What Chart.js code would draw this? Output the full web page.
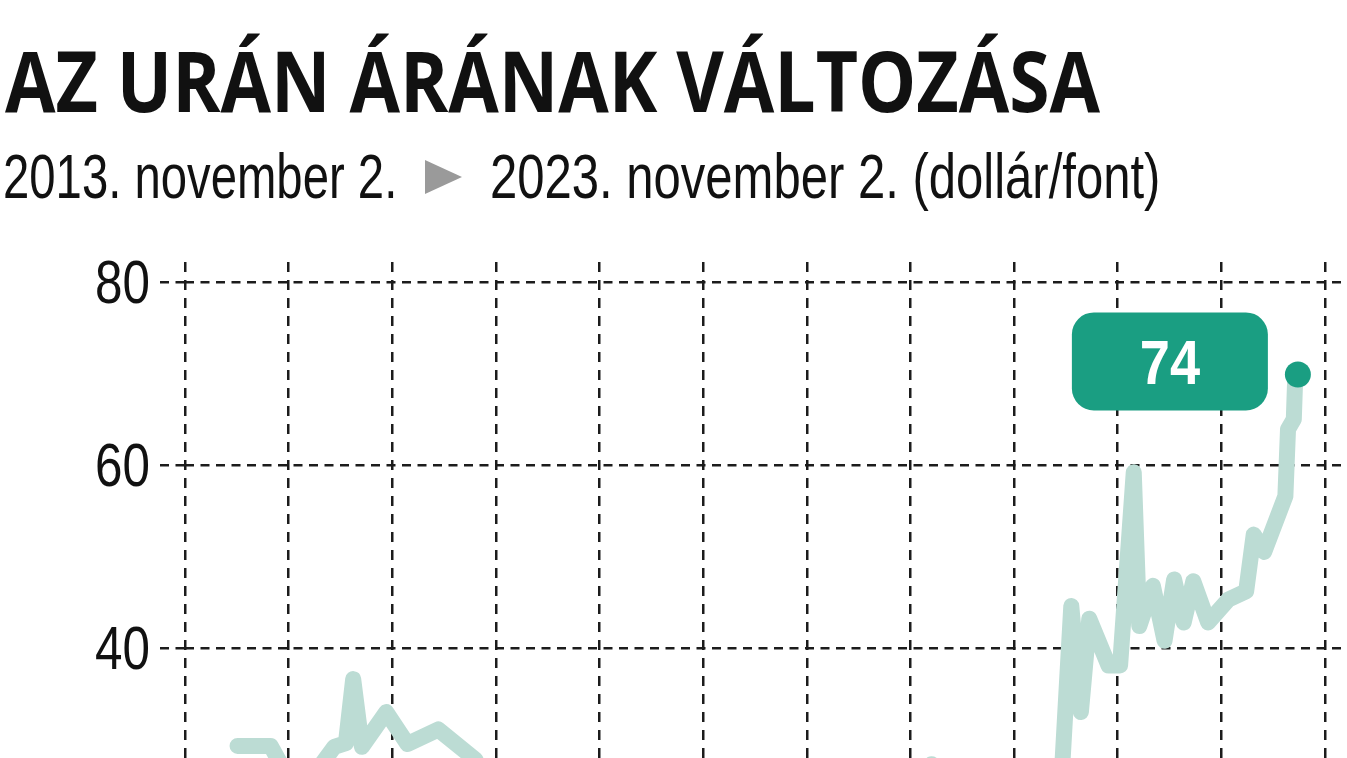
<!DOCTYPE html>
<html lang="hu">
<head>
<meta charset="utf-8">
<title>Az urán árának változása</title>
<script src="https://cdn.jsdelivr.net/npm/chart.js@4.4.0/dist/chart.umd.min.js"></script>
<style>
    html, body { margin: 0; padding: 0; background: #fff; overflow: hidden; }
    #wrap { position: relative; width: 1347px; height: 758px; overflow: hidden; background: #fff; }
    .txt { position: absolute; white-space: nowrap; color: #111; transform-origin: 0 0; }
    #title { left: 5px; top: 37px; font: 700 85px/85px "Open Sans", "Noto Sans", sans-serif; }
    .sub { top: 145px; font: 400 63px/63px "Liberation Sans", Arial, sans-serif; }
    #arrow { position: absolute; left: 425px; top: 160px; width: 0; height: 0;
             border-top: 17px solid transparent; border-bottom: 17px solid transparent; border-left: 37px solid #9a9a9a; }
    #chart { position: absolute; left: 0; top: 0; }
</style>
</head>
<body>
<div id="wrap">
    <div id="title" class="txt">AZ URÁN ÁRÁNAK VÁLTOZÁSA</div>
    <div id="subFrom" class="txt sub" style="left:3px">2013. november 2.</div>
    <div id="arrow"></div>
    <div id="subTo" class="txt sub" style="left:490px">2023. november 2. (dollár/font)</div>
    <canvas id="chart" width="1347" height="1064"></canvas>
</div>
<script>
// Uranium spot price, dollar per pound
const dates = [
    '2013-11-02', '2014-02-24', '2014-06-05', '2014-08-07', '2014-10-01', '2014-11-10',
    '2014-12-05', '2015-01-04', '2015-03-29', '2015-06-10', '2015-09-24', '2016-01-30',
    '2016-04-01', '2016-07-20', '2016-11-14', '2017-01-30', '2017-05-08', '2017-10-01',
    '2017-12-15', '2018-04-01', '2018-07-20', '2018-11-06', '2019-02-06', '2019-06-14',
    '2019-10-20', '2020-02-24', '2020-05-19', '2020-08-25', '2020-12-13', '2021-03-15',
    '2021-06-14', '2021-08-11', '2021-09-13', '2021-10-16', '2021-11-14', '2022-01-19',
    '2022-02-28', '2022-04-16', '2022-05-05', '2022-06-21', '2022-07-31', '2022-09-02',
    '2022-10-05', '2022-11-07', '2022-12-28', '2023-03-08', '2023-05-08', '2023-06-03',
    '2023-07-09', '2023-09-20', '2023-09-29', '2023-10-19', '2023-10-23', '2023-11-02'
];
const prices = [
    29.3, 29.3, 23.5, 26.8, 29.2, 29.6,
    36.6, 29.2, 33.0, 29.5, 31.1, 27.8,
    22.0, 20.5, 13.5, 19.5, 15.5, 15.0,
    19.5, 16.0, 20.5, 24.0, 23.0, 19.5,
    20.5, 19.0, 27.3, 25.5, 25.0, 23.0,
    27.0, 26.0, 44.6, 33.0, 43.2, 38.1,
    38.1, 59.2, 42.4, 46.8, 40.8, 47.5,
    42.8, 47.3, 42.8, 45.3, 46.2, 52.4,
    50.5, 56.6, 63.9, 65.0, 68.8, 69.9
];
const yTicks = [0, 20, 40, 60, 80];
const lastLabel = '74';

// x axis settings (decimal years)
const xMin = 2013.34;
const xMax = 2024.28;
const xGridStep = 0.9774;
const xGridCount = 12;

const teal = '#1a9e82';
const lineColor = '#bcdcd4';
const gridColor = '#1c1c1c';
const sans = '"Liberation Sans", Arial, sans-serif';

function toYear(s) {
    const d = new Date(s + 'T00:00:00Z');
    const start = Date.UTC(d.getUTCFullYear(), 0, 1);
    const end = Date.UTC(d.getUTCFullYear() + 1, 0, 1);
    return d.getUTCFullYear() + (d - start) / (end - start);
}

const points = dates.map((d, i) => ({ x: toYear(d), y: prices[i] }));

// squeeze the html texts to the widths in the picture
function fitText(id, width) {
    const el = document.getElementById(id);
    el.style.transform = 'scaleX(' + (width / el.offsetWidth) + ')';
}

// condensed y tick labels (no narrow font installed, so squeeze them)
const narrowTicksPlugin = {
    id: 'narrowTicks',
    afterDraw(chart) {
        const scale = chart.scales.y;
        const ctx = chart.ctx;
        const right = scale.right - 25 - 10;
        ctx.save();
        ctx.fillStyle = '#111';
        ctx.font = '61px ' + sans;
        ctx.textAlign = 'right';
        ctx.textBaseline = 'alphabetic';
        scale.ticks.forEach(t => {
            const y = scale.getPixelForValue(t.value);
            ctx.save();
            ctx.translate(right, y);
            ctx.scale(0.81, 1);
            ctx.fillText(String(t.value), 0, 21);
            ctx.restore();
        });
        ctx.restore();
    }
};

// green box with the last value, left of the end point
const lastLabelPlugin = {
    id: 'lastLabel',
    afterDatasetsDraw(chart) {
        const meta = chart.getDatasetMeta(0);
        const pt = meta.data[meta.data.length - 1];
        const ctx = chart.ctx;
        const w = 196, h = 98, r = 22;
        const right = pt.x - 30;
        const cy = pt.y - 13;
        ctx.save();
        ctx.fillStyle = teal;
        ctx.beginPath();
        ctx.roundRect(right - w, cy - h / 2, w, h, r);
        ctx.fill();
        ctx.fillStyle = '#fff';
        ctx.font = 'bold 63px ' + sans;
        ctx.textAlign = 'center';
        ctx.textBaseline = 'alphabetic';
        ctx.translate(right - w / 2, cy);
        ctx.scale(0.86, 1);
        ctx.fillText(lastLabel, 0, 23);
        ctx.restore();
    }
};

function drawChart() {
    fitText('title', 1095);
    fitText('subFrom', 394);
    fitText('subTo', 670);

    const ctx = document.getElementById('chart').getContext('2d');
    new Chart(ctx, {
        type: 'line',
        data: {
            datasets: [{
                data: points,
                borderColor: lineColor,
                borderWidth: 16,
                borderJoinStyle: 'round',
                borderCapStyle: 'round',
                tension: 0,
                pointRadius: c => c.dataIndex === points.length - 1 ? 13 : 0,
                pointBackgroundColor: teal,
                pointBorderWidth: 0,
                pointHoverRadius: 0
            }]
        },
        options: {
            responsive: false,
            animation: false,
            events: [],
            layout: { autoPadding: false, padding: { top: 262, right: 2, left: 0, bottom: 0 } },
            plugins: {
                legend: { display: false },
                tooltip: { enabled: false }
            },
            scales: {
                x: {
                    type: 'linear',
                    min: xMin,
                    max: xMax,
                    afterBuildTicks: axis => {
                        axis.ticks = [];
                        for (let i = 0; i < xGridCount; i++) {
                            axis.ticks.push({ value: xMin + i * xGridStep });
                        }
                    },
                    afterFit: axis => { axis.height = 50; },
                    ticks: { display: false },
                    grid: { color: gridColor, lineWidth: 2.5, drawTicks: false },
                    border: { display: false, dash: [10, 8] }
                },
                y: {
                    min: 0,
                    max: 82.19,
                    afterBuildTicks: axis => {
                        axis.ticks = yTicks.map(v => ({ value: v }));
                    },
                    afterFit: axis => { axis.width = 185; },
                    ticks: { display: false },
                    grid: {
                        color: gridColor,
                        lineWidth: 2.5,
                        tickLength: 25,
                        tickColor: gridColor,
                        tickWidth: 2.5,
                        tickBorderDash: [9, 6.5]
                    },
                    border: { display: false, dash: [9, 6.5] }
                }
            }
        },
        plugins: [narrowTicksPlugin, lastLabelPlugin]
    });
}

// canvas text needs the fonts loaded first
Promise.all([
    document.fonts.load('61px "Liberation Sans"'),
    document.fonts.load('bold 63px "Liberation Sans"'),
    document.fonts.load('700 85px "Open Sans"')
]).catch(() => {}).then(drawChart);
</script>
</body>
</html>
